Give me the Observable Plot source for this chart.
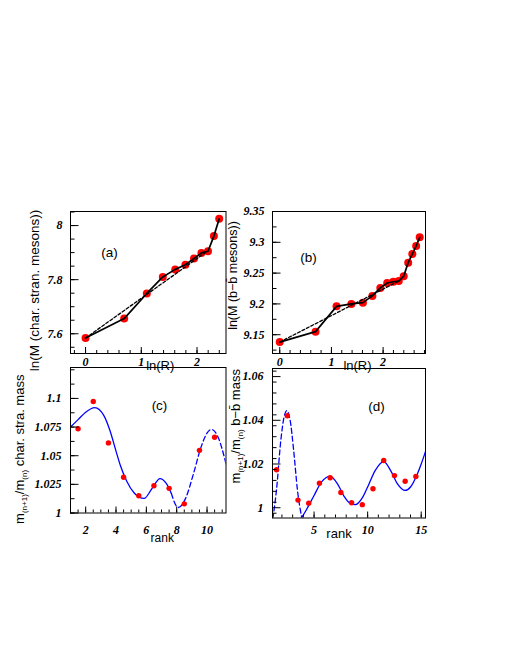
<!DOCTYPE html>
<html><head><meta charset="utf-8">
<script src="https://cdn.jsdelivr.net/npm/d3@7"></script>
<script src="https://cdn.jsdelivr.net/npm/@observablehq/plot@0.6"></script>
<style>
body{margin:0;background:#fff;}
#chart{position:relative;width:510px;height:660px;background:#fff;}
#chart svg{position:absolute;left:0;top:0;overflow:visible;background:transparent;}
#chart svg g[aria-label="y-axis tick label"], #chart svg g[aria-label="x-axis tick label"]{
  font-family:"Liberation Serif","Times New Roman",serif; font-style:italic; font-weight:bold;}
</style></head><body><div id="chart"></div>
<script>
// ---------- Panel (a): charmed-strange mesons ----------
const aLnR = [0, 0.693, 1.099, 1.386, 1.609, 1.792, 1.946, 2.079, 2.197, 2.303, 2.398];
const aLnM = [7.584, 7.656, 7.749, 7.810, 7.838, 7.855, 7.878, 7.899, 7.905, 7.961, 8.025];
const aFitX = [0, 2.15];
const aFitY = [7.584, 7.900];
const aYTicks = [7.6, 7.8, 8];
const aXTicks = [0, 1, 2];
// ---------- Panel (b): b-bbar mesons ----------
const bLnR = [0, 0.693, 1.099, 1.386, 1.609, 1.792, 1.946, 2.079, 2.197, 2.303, 2.398, 2.485, 2.565, 2.639, 2.708];
const bLnM = [9.138, 9.155, 9.196, 9.200, 9.202, 9.213, 9.226, 9.234, 9.236, 9.237, 9.245, 9.267, 9.281, 9.294, 9.308];
const bFitX = [0, 2.3];
const bFitY = [9.138, 9.237];
const bYTicks = [9.15, 9.2, 9.25, 9.3, 9.35];
const bXTicks = [0, 1, 2];
// ---------- Panel (c): mass ratios, char. stra. ----------
const cRank = [1.5, 2.5, 3.5, 4.5, 5.5, 6.5, 7.5, 8.5, 9.5, 10.5];
const cRatio = [1.0735, 1.0973, 1.0612, 1.0312, 1.0150, 1.0238, 1.0215, 1.0080, 1.0547, 1.0661];
const cCurveSolidX = [1.0, 1.5, 2.0, 2.6, 3.2, 3.6, 4.0, 4.3, 4.7, 5.2, 5.85, 6.4, 6.9, 7.3, 7.65];
const cCurveSolidY = [1.075, 1.0815, 1.088, 1.092, 1.085, 1.072, 1.054, 1.041, 1.028, 1.0175, 1.0127, 1.022, 1.030, 1.026, 1.017];
const cCurveDashX = [7.65, 8.1, 8.6, 9.1, 9.6, 10.0, 10.3, 10.7, 11.25];
const cCurveDashY = [1.017, 1.0048, 1.0132, 1.034, 1.0573, 1.0698, 1.0729, 1.067, 1.043];
const cYTicks = [1, 1.025, 1.05, 1.075, 1.1];
const cXTicks = [2, 4, 6, 8, 10];
// ---------- Panel (d): mass ratios, b-bbar ----------
const dRank = [1.5, 2.5, 3.5, 4.5, 5.5, 6.5, 7.5, 8.5, 9.5, 10.5, 11.5, 12.5, 13.5, 14.5];
const dRatio = [1.0174, 1.0421, 1.0035, 1.0021, 1.0112, 1.0137, 1.0070, 1.0023, 1.0014, 1.0087, 1.0216, 1.0147, 1.0121, 1.0143];
const dCurveDashX = [1.15, 1.5, 1.9, 2.2, 2.45, 2.75, 3.1, 3.45, 3.85];
const dCurveDashY = [0.9950, 1.0085, 1.031, 1.0415, 1.0444, 1.0405, 1.026, 1.008, 0.9955];
const dCurveSolidX = [3.85, 4.3, 5.0, 5.7, 6.5, 7.2, 7.8, 8.3, 8.85, 9.5, 10.0, 10.7, 11.5, 12.2, 12.8, 13.5, 14.0, 14.6, 15.0, 15.4];
const dCurveSolidY = [0.9955, 0.9992, 1.0056, 1.0118, 1.0143, 1.0108, 1.0052, 1.0022, 1.0014, 1.0045, 1.0095, 1.0170, 1.0211, 1.0165, 1.0108, 1.0079, 1.0095, 1.0150, 1.0200, 1.0257];
const dYTicks = [1, 1.02, 1.04, 1.06];
const dXTicks = [5, 10, 15];

const W = 510, H = 660;
const pts = (xs, ys) => xs.map((x, i) => ({x, y: ys[i]}));
const between = (arr, dom) => arr.filter(v => v >= Math.min(...dom) - 1e-9 && v <= Math.max(...dom) + 1e-9);
const tickFont = {fontFamily: "Liberation Serif, Times New Roman, serif", fontStyle: "italic", fontWeight: "bold", fontSize: 12};
const titleFont = {fontFamily: "Liberation Sans, Arial, Helvetica, sans-serif", fontSize: 12.5};

function panel(o) {
  const fw = o.x1 - o.x0, fh = o.y1 - o.y0;
  const yMinor = between(d3.range(o.yMinor[0], o.yDomain[1] + 1e-9, o.yMinor[1]), o.yDomain);
  const xMinor = between(d3.range(o.xMinor[0], o.xDomain[1] + 1e-9, o.xMinor[1]), o.xDomain);
  const svg = Plot.plot({
    width: W, height: H,
    marginLeft: o.x0, marginRight: W - o.x1, marginTop: o.y0, marginBottom: H - o.y1,
    x: {domain: o.xDomain, label: null},
    y: {domain: o.yDomain, label: null},
    style: {background: "transparent", overflow: "visible"},
    marks: [
      ...o.marks,
      Plot.frame({stroke: "black", strokeWidth: 1}),
      Plot.tickY(yMinor, {y: d => d, insetRight: fw - 4.5, stroke: "black", strokeWidth: 1}),
      Plot.tickY(o.yTicks, {y: d => d, insetRight: fw - 8.5, stroke: "black", strokeWidth: 1}),
      Plot.tickX(xMinor, {x: d => d, insetTop: fh - 3, stroke: "black", strokeWidth: 1}),
      Plot.tickX(o.xTicks, {x: d => d, insetTop: fh - 6, stroke: "black", strokeWidth: 1}),
      Plot.axisY({ticks: o.yTicks, tickSize: 0, tickPadding: o.yPad, tickFormat: d => String(d), label: null, ...tickFont}),
      Plot.axisX({ticks: o.xTicks, tickSize: 0, tickPadding: o.xPad, tickFormat: d => String(d), label: null, ...tickFont}),
      Plot.text([o.yTitle], {frameAnchor: "left", dx: o.yTitlePos[0], dy: o.yTitlePos[1], rotate: -90, textAnchor: "middle", lineAnchor: "middle", ...titleFont, fontSize: o.yTitleSize || 12.5}),
      Plot.text([o.xTitle], {frameAnchor: "bottom", dx: o.xTitlePos[0], dy: o.xTitlePos[1], textAnchor: "middle", lineAnchor: "middle", ...titleFont, fontSize: o.xTitleSize || 13}),
      Plot.text([o.tag], {frameAnchor: "top-left", dx: o.tagPos[0], dy: o.tagPos[1], textAnchor: "middle", lineAnchor: "middle", ...titleFont, fontSize: 13.5})
    ]
  });
  // render the mass-ratio titles with real subscripts (m_(n+1)/m_(n))
  if (o.subTitle) {
    d3.select(svg).selectAll("text").filter(function() { return this.textContent === o.yTitle; })
      .each(function() {
        const t = d3.select(this);
        t.text(null);
        o.subTitle.forEach(([s, sub]) => {
          const ts = t.append("tspan").text(s);
          if (sub) ts.attr("font-size", 8).attr("dy", 3);
          else ts.attr("dy", sub === false ? -3 : 0);
        });
      });
  }
  return svg;
}

const chart = document.getElementById("chart");

chart.appendChild(panel({
  x0: 70, x1: 225.5, y0: 211, y1: 353,
  xDomain: [-0.27, 2.52], yDomain: [7.527, 8.052],
  xTicks: aXTicks, yTicks: aYTicks, xMinor: [-0.2, 0.2], yMinor: [7.55, 0.05],
  yPad: 8, xPad: 4,
  yTitle: "ln(M (char. stran. mesons))", yTitlePos: [-36, 8], yTitleSize: 13.5,
  xTitle: "ln(R)", xTitlePos: [12, 12],
  tag: "(a)", tagPos: [39, 41],
  marks: [
    Plot.dot(pts(aLnR, aLnM), {x: "x", y: "y", r: 4, fill: "#ff0000"}),
    Plot.line(pts(aFitX, aFitY), {x: "x", y: "y", stroke: "black", strokeWidth: 1.3, strokeDasharray: "3,2"}),
    Plot.line(pts(aLnR, aLnM), {x: "x", y: "y", stroke: "black", strokeWidth: 1.7})
  ]
}));

chart.appendChild(panel({
  x0: 272, x1: 425, y0: 211, y1: 353,
  xDomain: [-0.14, 2.82], yDomain: [9.1195, 9.35],
  xTicks: bXTicks, yTicks: bYTicks, xMinor: [0, 0.2], yMinor: [9.125, 0.025],
  yPad: 8, xPad: 4,
  yTitle: "ln(M (b\u2212b\u0304 mesons))", yTitlePos: [-40, -7], yTitleSize: 12.5,
  xTitle: "ln(R)", xTitlePos: [8.5, 12],
  tag: "(b)", tagPos: [36, 46],
  marks: [
    Plot.dot(pts(bLnR, bLnM), {x: "x", y: "y", r: 4, fill: "#ff0000"}),
    Plot.line(pts(bFitX, bFitY), {x: "x", y: "y", stroke: "black", strokeWidth: 1.3, strokeDasharray: "3,2"}),
    Plot.line(pts(bLnR, bLnM), {x: "x", y: "y", stroke: "black", strokeWidth: 1.7})
  ]
}));

chart.appendChild(panel({
  x0: 70, x1: 225.5, y0: 367, y1: 512.5,
  xDomain: [1, 11.25], yDomain: [1, 1.127],
  xTicks: cXTicks, yTicks: cYTicks, xMinor: [1, 0.5], yMinor: [1, 0.0125],
  yPad: 9, xPad: 12,
  yTitle: "m(n+1)/m(n) char. stra. mass", yTitlePos: [-51, 9], yTitleSize: 13,
  subTitle: [["m"], ["(n+1)", true], ["/m", false], ["(n)", true], [" char. stra. mass", false]],
  xTitle: "rank", xTitlePos: [14, 25], xTitleSize: 12,
  tag: "(c)", tagPos: [89, 38],
  marks: [
    Plot.line(pts(cCurveSolidX, cCurveSolidY), {x: "x", y: "y", stroke: "#0000ff", strokeWidth: 1.3, curve: "monotone-x", clip: true}),
    Plot.line(pts(cCurveDashX, cCurveDashY), {x: "x", y: "y", stroke: "#0000ff", strokeWidth: 1.3, strokeDasharray: "5,3", curve: "monotone-x", clip: true}),
    Plot.dot(pts(cRank, cRatio), {x: "x", y: "y", r: 2.7, fill: "#ff0000"})
  ]
}));

chart.appendChild(panel({
  x0: 272, x1: 425, y0: 368, y1: 517.5,
  xDomain: [1.12, 15.4], yDomain: [0.9953, 1.0637],
  xTicks: dXTicks, yTicks: dYTicks, xMinor: [2, 1], yMinor: [0.9975, 0.005],
  yPad: 9, xPad: 7,
  yTitle: "m(n+1)/m(n) b\u2212b\u0304 mass", yTitlePos: [-37, -17], yTitleSize: 13,
  subTitle: [["m"], ["(n+1)", true], ["/m", false], ["(n)", true], [" b\u2212b\u0304 mass", false]],
  xTitle: "rank", xTitlePos: [-10, 16],
  tag: "(d)", tagPos: [104, 38],
  marks: [
    Plot.line(pts(dCurveDashX, dCurveDashY), {x: "x", y: "y", stroke: "#0000ff", strokeWidth: 1.3, strokeDasharray: "5,3", curve: "monotone-x", clip: true}),
    Plot.line(pts(dCurveSolidX, dCurveSolidY), {x: "x", y: "y", stroke: "#0000ff", strokeWidth: 1.3, curve: "monotone-x", clip: true}),
    Plot.dot(pts(dRank, dRatio), {x: "x", y: "y", r: 2.7, fill: "#ff0000"})
  ]
}));
</script></body></html>
